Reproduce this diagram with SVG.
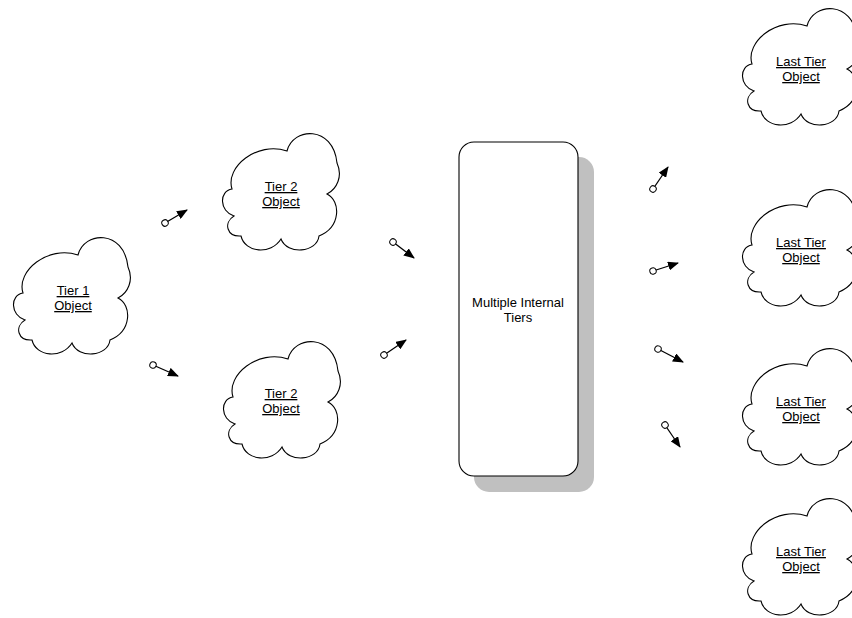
<svg xmlns="http://www.w3.org/2000/svg" xmlns:xlink="http://www.w3.org/1999/xlink" width="852" height="618" viewBox="0 0 852 618">
  <style>
    .cloud { fill: #ffffff; stroke: #000000; stroke-width: 1.1; }
    .label { font-family: "Liberation Sans", Arial, sans-serif; font-size: 13px; fill: #000000; text-anchor: middle; }
    .ul { text-decoration: underline; }
    .conn { stroke: #000000; stroke-width: 1.3; fill: none; marker-start: url(#dot); marker-end: url(#head); }
  </style>
  <defs>
    <!-- cloud outline in a 120 x 122 box -->
    <path id="cloudShape" d="M 66,20 C 72,-4 112,-6 116,32 C 122,45 116,58 106,63 C 120,70 120,96 98,105 C 96,122 66,124 60,108 C 50,124 24,122 20,105 C 6,106 2,92 13,85 C -2,80 -2,60 11,58 C 4,36 36,10 66,20 Z"/>
    <marker id="dot" markerUnits="userSpaceOnUse" markerWidth="9" markerHeight="9" refX="4.5" refY="4.5" orient="auto">
      <circle cx="4.5" cy="4.5" r="3.2" fill="#ffffff" stroke="#000000" stroke-width="1"/>
    </marker>
    <marker id="head" markerUnits="userSpaceOnUse" markerWidth="11" markerHeight="9" refX="10" refY="4.5" orient="auto">
      <path d="M0,0 L11,4.5 L0,9 Z" fill="#000000"/>
    </marker>
  </defs>

  <g id="tier1">
    <use xlink:href="#cloudShape" href="#cloudShape" class="cloud" transform="translate(12,235)"/>
    <text class="label ul" x="73" y="295">Tier 1</text>
    <text class="label ul" x="73" y="310">Object</text>
  </g>

  <g id="tier2-upper">
    <use xlink:href="#cloudShape" href="#cloudShape" class="cloud" transform="translate(221,131)"/>
    <text class="label ul" x="281" y="191">Tier 2</text>
    <text class="label ul" x="281" y="206">Object</text>
  </g>

  <g id="tier2-lower">
    <use xlink:href="#cloudShape" href="#cloudShape" class="cloud" transform="translate(222,339)"/>
    <text class="label ul" x="281" y="398">Tier 2</text>
    <text class="label ul" x="281" y="413">Object</text>
  </g>

  <g id="internal-tiers">
    <rect x="474" y="157" width="120" height="335" rx="15" ry="15" fill="#c0c0c0"/>
    <rect x="459" y="142" width="119" height="334" rx="15" ry="15" fill="#ffffff" stroke="#000000" stroke-width="1.1"/>
    <text class="label" x="518" y="307">Multiple Internal</text>
    <text class="label" x="518" y="322">Tiers</text>
  </g>

  <g id="last-tier-1">
    <use xlink:href="#cloudShape" href="#cloudShape" class="cloud" transform="translate(741,6)"/>
    <text class="label ul" x="801" y="66">Last Tier</text>
    <text class="label ul" x="801" y="81">Object</text>
  </g>

  <g id="last-tier-2">
    <use xlink:href="#cloudShape" href="#cloudShape" class="cloud" transform="translate(741,187)"/>
    <text class="label ul" x="801" y="247">Last Tier</text>
    <text class="label ul" x="801" y="262">Object</text>
  </g>

  <g id="last-tier-3">
    <use xlink:href="#cloudShape" href="#cloudShape" class="cloud" transform="translate(741,346)"/>
    <text class="label ul" x="801" y="406">Last Tier</text>
    <text class="label ul" x="801" y="421">Object</text>
  </g>

  <g id="last-tier-4">
    <use xlink:href="#cloudShape" href="#cloudShape" class="cloud" transform="translate(741,496)"/>
    <text class="label ul" x="801" y="556">Last Tier</text>
    <text class="label ul" x="801" y="571">Object</text>
  </g>

  <g id="connectors">
    <line class="conn" x1="165" y1="223" x2="187" y2="210"/>
    <line class="conn" x1="153" y1="365" x2="178" y2="376"/>
    <line class="conn" x1="393" y1="242" x2="414" y2="258"/>
    <line class="conn" x1="384" y1="355" x2="406" y2="340"/>
    <line class="conn" x1="653" y1="189" x2="668" y2="167"/>
    <line class="conn" x1="653" y1="271" x2="678" y2="263"/>
    <line class="conn" x1="658" y1="349" x2="683" y2="362"/>
    <line class="conn" x1="665" y1="425" x2="680" y2="447"/>
  </g>
</svg>
